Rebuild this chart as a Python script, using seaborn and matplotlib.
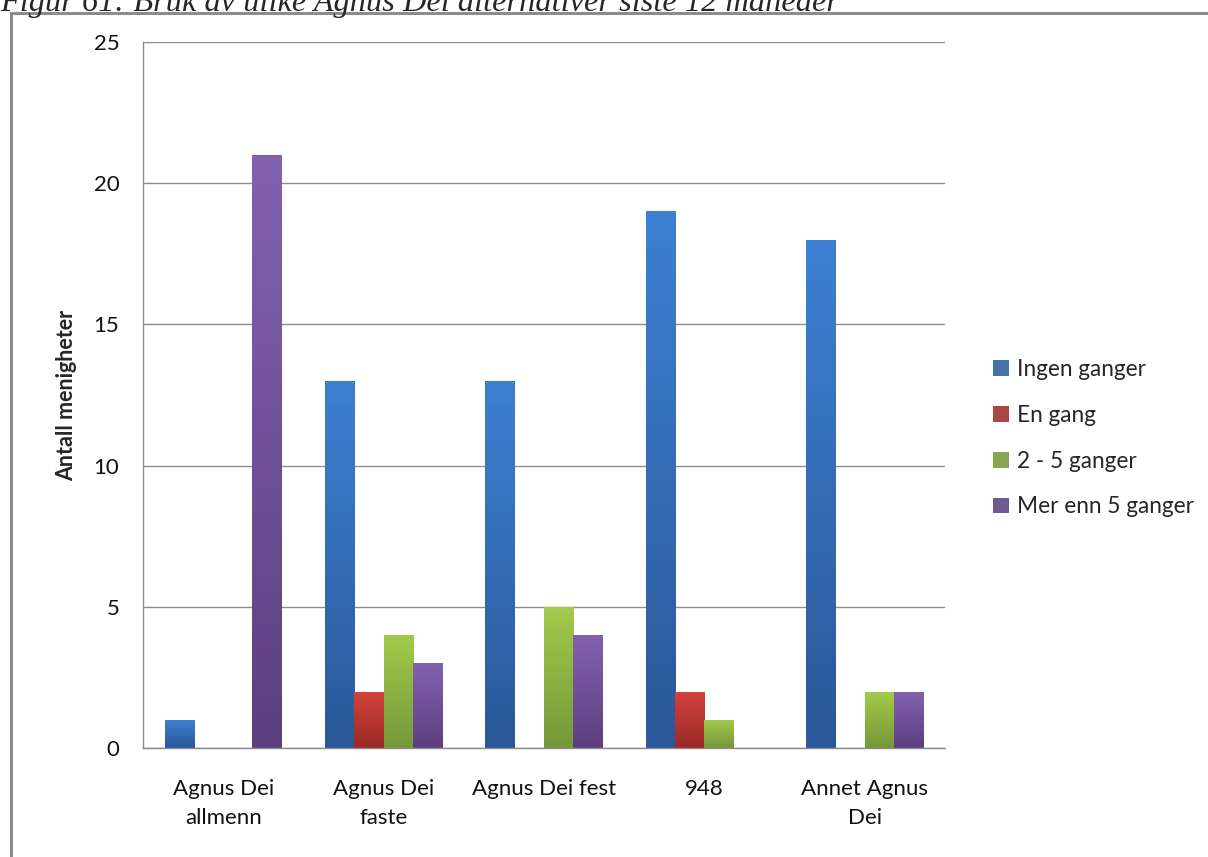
import numpy as np
import pandas as pd
import matplotlib
matplotlib.use("Agg")
import matplotlib.pyplot as plt
from matplotlib.colors import LinearSegmentedColormap
from matplotlib.patches import Rectangle
import seaborn as sns

categories = ["Agnus Dei\nallmenn", "Agnus Dei\nfaste", "Agnus Dei fest", "948", "Annet Agnus\nDei"]
series = ["Ingen ganger", "En gang", "2 - 5 ganger", "Mer enn 5 ganger"]
ingen = [1, 13, 13, 19, 18]
en_gang = [0, 2, 0, 2, 0]
to_fem = [0, 4, 5, 1, 2]
mer_enn_fem = [21, 3, 4, 0, 2]

colors = ["#3570B8", "#BB3733", "#8DB440", "#70509A"]
tops = ["#3D80D2", "#D2433D", "#A3CB4B", "#8262AF"]
bottoms = ["#2B5898", "#9C2926", "#76983A", "#5C3F80"]

rows = []
for s, vals in zip(series, [ingen, en_gang, to_fem, mer_enn_fem]):
    for c, v in zip(categories, vals):
        rows.append({"kategori": c, "serie": s, "antall": v})
df = pd.DataFrame(rows)

sns.set_style("white")
plt.rcParams["font.family"] = ["Lato", "DejaVu Sans"]

fig = plt.figure(figsize=(12.08, 8.57), dpi=100)
ax = fig.add_axes([0.1184, 0.1272, 0.6639, 0.8238])

sns.barplot(data=df, x="kategori", y="antall", hue="serie", palette=colors,
            width=0.73, gap=0, edgecolor="none", linewidth=0, ax=ax, errorbar=None)

# vertical gradient on each bar
for i, container in enumerate(ax.containers):
    cmap = LinearSegmentedColormap.from_list("g%d" % i, [bottoms[i], tops[i]])
    for patch in container:
        x0, y0 = patch.get_x(), patch.get_y()
        w, h = patch.get_width(), patch.get_height()
        if h <= 0:
            continue
        grad = np.linspace(0, 1, 100).reshape(-1, 1)
        im = ax.imshow(grad, cmap=cmap, origin="lower", aspect="auto",
                       extent=[x0, x0 + w, y0, y0 + h], zorder=2.5)
        im.set_clip_path(patch)

ax.set_xlim(-0.5, 4.5)
ax.set_ylim(0, 25)
ax.set_yticks([0, 5, 10, 15, 20, 25])
ax.yaxis.grid(True, color="#8c8c8c", linewidth=1)
ax.set_axisbelow(True)
for s in ["top", "right"]:
    ax.spines[s].set_visible(False)
for s in ["left", "bottom"]:
    ax.spines[s].set_color("#8c8c8c")
    ax.spines[s].set_linewidth(1)

ax.set_xticks(np.arange(-0.5, 5, 1), minor=True)
ax.tick_params(axis="x", which="major", length=0, pad=22, labelsize=16)
ax.tick_params(axis="x", which="minor", length=7, color="#8c8c8c", width=1, direction="out")
ax.tick_params(axis="y", length=7, color="#8c8c8c", width=1, direction="out", labelsize=16, pad=10)
for lab in ax.get_xticklabels():
    lab.set_linespacing(1.6)
    lab.set_color("#111111")
for lab in ax.get_yticklabels():
    lab.set_color("#111111")
ax.set_xlabel("")
ax.set_ylabel("Antall menigheter", fontsize=15.5, fontweight="bold", labelpad=12)

leg = ax.legend(loc="center left", bbox_to_anchor=(1.035, 0.439), frameon=False,
                fontsize=16.3, labelspacing=1.1, handlelength=0.7, handleheight=0.7,
                handletextpad=0.35)

# outer frame and cut-off caption
fig.patches.append(Rectangle((0.0095, -0.01), 1.05, 0.9945, transform=fig.transFigure,
                             fill=False, edgecolor="#8c8c8c", linewidth=2.2))
fig.text(0.0, 1 - 11 / 857, "Figur 61: Bruk av ulike Agnus Dei alternativer siste 12 måneder",
         family="Liberation Serif", style="italic", fontsize=23.3, va="baseline", ha="left")

fig.savefig("out.png", dpi=100)
